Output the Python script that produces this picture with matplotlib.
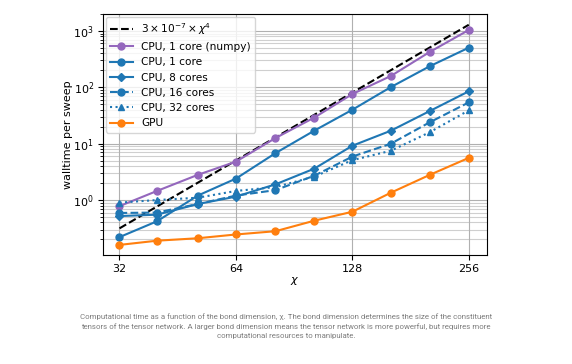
import matplotlib
matplotlib.use('Agg')
import matplotlib.pyplot as plt
import numpy as np
from matplotlib.ticker import FixedLocator, NullLocator, FixedFormatter

chi = np.array([32, 40, 51, 64, 81, 102, 128, 161, 203, 256])

t_numpy = [0.78, 1.45, 2.8, 4.8, 12.6, 29, 76, 159, 425, 1040]
t_1core = [0.22, 0.42, 1.2, 2.4, 6.8, 17, 40, 101, 237, 505]
t_8cores = [0.52, 0.55, 0.85, 1.15, 1.9, 3.6, 9.2, 17, 38, 85]
t_16cores = [0.59, 0.6, 0.85, 1.2, 1.5, 2.7, 5.9, 10, 24, 54]
t_32cores = [0.9, 1.0, 1.1, 1.45, 1.7, 2.6, 5.1, 7.5, 16, 39]
t_gpu = [0.16, 0.19, 0.21, 0.245, 0.28, 0.43, 0.62, 1.35, 2.8, 5.6]

xticks = [32, 64, 128, 256]

caption = ("Computational time as a function of the bond dimension, \u03c7. The bond dimension determines the size of the constituent\n"
           "tensors of the tensor network. A larger bond dimension means the tensor network is more powerful, but requires more\n"
           "computational resources to manipulate.")


def plot():
    fig = plt.figure(figsize=(5.72, 3.64), dpi=100, facecolor='w')
    ax = fig.add_axes([0.180, 0.2995, 0.671, 0.662])

    blue = '#1f77b4'
    ax.plot(chi, 3e-7 * chi.astype(float)**4, 'k--', lw=1.5, label=r'$3\times10^{-7}\times\chi^4$')
    ax.plot(chi, t_numpy, color='#9467bd', marker='o', ms=5, lw=1.5, label='CPU, 1 core (numpy)')
    ax.plot(chi, t_1core, color=blue, marker='o', ms=5, lw=1.5, label='CPU, 1 core')
    ax.plot(chi, t_8cores, color=blue, marker='D', ms=4.5, lw=1.5, label='CPU, 8 cores')
    ax.plot(chi, t_16cores, color=blue, marker='o', ms=5, lw=1.5, ls='--', label='CPU, 16 cores')
    ax.plot(chi, t_32cores, color=blue, marker='^', ms=5, lw=1.5, ls=':', label='CPU, 32 cores')
    ax.plot(chi, t_gpu, color='#ff7f0e', marker='o', ms=5, lw=1.5, label='GPU')

    ax.set_xscale('log', base=2)
    ax.set_yscale('log')
    ax.set_xlim(29.0, 285)
    ax.set_ylim(0.106, 2000)
    ax.xaxis.set_major_locator(FixedLocator(xticks))
    ax.xaxis.set_major_formatter(FixedFormatter([str(v) for v in xticks]))
    ax.xaxis.set_minor_locator(NullLocator())
    ax.tick_params(labelsize=8, pad=3)

    ax.grid(True, which='major', color='#b0b0b0', lw=0.8)
    ax.grid(True, which='minor', axis='y', color='#b0b0b0', lw=0.8, alpha=0.6)

    ax.set_xlabel(r'$\chi$', fontsize=8, labelpad=1)
    ax.set_ylabel('walltime per sweep', fontsize=8, labelpad=0.5)
    ax.legend(loc='upper left', fontsize=7.6, labelspacing=0.5, borderpad=0.4,
              handlelength=2.2, borderaxespad=0.25)

    fig.text(0.5, 0.105, caption, ha='center', va='center', fontsize=5.7, color='#7d7d7d',
             family='Roboto', linespacing=1.55)

    plt.savefig('out.png', dpi=100)
    fig.clear()


plot()
